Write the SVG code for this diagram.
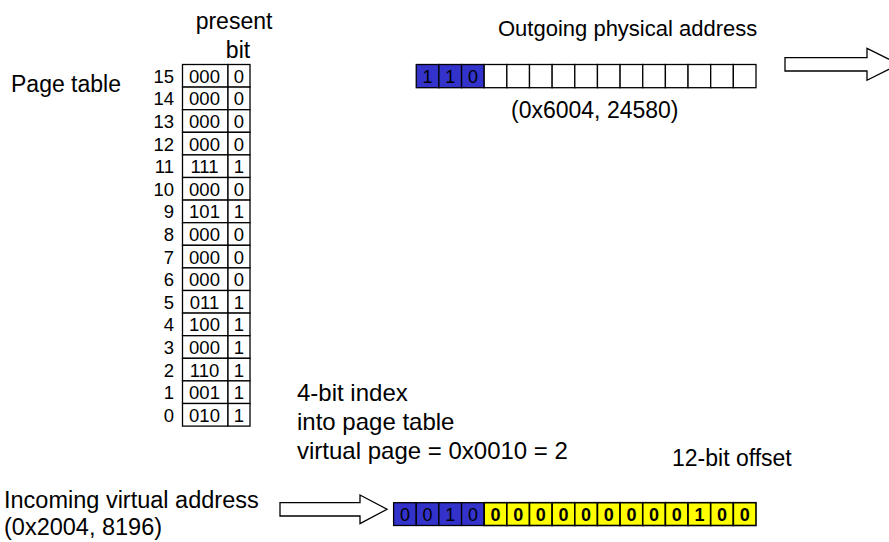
<svg xmlns="http://www.w3.org/2000/svg" width="889" height="542" viewBox="0 0 889 542">
<style>
text{font-family:"Liberation Sans",Arial,sans-serif;fill:#000}
.big{font-size:23px}
.sm{font-size:18.5px}
.bit{font-size:18px;text-anchor:middle}
.bd{font-weight:bold}
.c{text-anchor:middle}
.r{text-anchor:end}
.cell{fill:#fff;stroke:#000;stroke-width:1.3}
.blue{fill:#3333CC;stroke:#000;stroke-width:1.3}
.yel{fill:#FFFF00;stroke:#000;stroke-width:1.6}
.arrow{fill:#fff;stroke:#000;stroke-width:1.3}
</style>
<rect width="889" height="542" fill="#fff"/>

<g id="page-table-label"><text class="big" x="11" y="92">Page table</text></g>
<g id="present-bit-label">
<text class="big c" x="234" y="29">present</text>
<text class="big c" x="238" y="58">bit</text>
</g>

<g id="page-table">
<g id="row15"><text class="sm r" x="174" y="82.8">15</text><rect class="cell" x="182.5" y="64.5" width="45.5" height="22.6"/><rect class="cell" x="228" y="64.5" width="22" height="22.6"/><text class="sm c" x="204.5" y="82.8">000</text><text class="sm c" x="239" y="82.8">0</text></g>
<g id="row14"><text class="sm r" x="174" y="105.4">14</text><rect class="cell" x="182.5" y="87.1" width="45.5" height="22.6"/><rect class="cell" x="228" y="87.1" width="22" height="22.6"/><text class="sm c" x="204.5" y="105.4">000</text><text class="sm c" x="239" y="105.4">0</text></g>
<g id="row13"><text class="sm r" x="174" y="128">13</text><rect class="cell" x="182.5" y="109.7" width="45.5" height="22.6"/><rect class="cell" x="228" y="109.7" width="22" height="22.6"/><text class="sm c" x="204.5" y="128">000</text><text class="sm c" x="239" y="128">0</text></g>
<g id="row12"><text class="sm r" x="174" y="150.6">12</text><rect class="cell" x="182.5" y="132.3" width="45.5" height="22.6"/><rect class="cell" x="228" y="132.3" width="22" height="22.6"/><text class="sm c" x="204.5" y="150.6">000</text><text class="sm c" x="239" y="150.6">0</text></g>
<g id="row11"><text class="sm r" x="174" y="173.2">11</text><rect class="cell" x="182.5" y="154.9" width="45.5" height="22.6"/><rect class="cell" x="228" y="154.9" width="22" height="22.6"/><text class="sm c" x="204.5" y="173.2">111</text><text class="sm c" x="239" y="173.2">1</text></g>
<g id="row10"><text class="sm r" x="174" y="195.8">10</text><rect class="cell" x="182.5" y="177.5" width="45.5" height="22.6"/><rect class="cell" x="228" y="177.5" width="22" height="22.6"/><text class="sm c" x="204.5" y="195.8">000</text><text class="sm c" x="239" y="195.8">0</text></g>
<g id="row9"><text class="sm r" x="174" y="218.4">9</text><rect class="cell" x="182.5" y="200.1" width="45.5" height="22.6"/><rect class="cell" x="228" y="200.1" width="22" height="22.6"/><text class="sm c" x="204.5" y="218.4">101</text><text class="sm c" x="239" y="218.4">1</text></g>
<g id="row8"><text class="sm r" x="174" y="241">8</text><rect class="cell" x="182.5" y="222.7" width="45.5" height="22.6"/><rect class="cell" x="228" y="222.7" width="22" height="22.6"/><text class="sm c" x="204.5" y="241">000</text><text class="sm c" x="239" y="241">0</text></g>
<g id="row7"><text class="sm r" x="174" y="263.6">7</text><rect class="cell" x="182.5" y="245.3" width="45.5" height="22.6"/><rect class="cell" x="228" y="245.3" width="22" height="22.6"/><text class="sm c" x="204.5" y="263.6">000</text><text class="sm c" x="239" y="263.6">0</text></g>
<g id="row6"><text class="sm r" x="174" y="286.2">6</text><rect class="cell" x="182.5" y="267.9" width="45.5" height="22.6"/><rect class="cell" x="228" y="267.9" width="22" height="22.6"/><text class="sm c" x="204.5" y="286.2">000</text><text class="sm c" x="239" y="286.2">0</text></g>
<g id="row5"><text class="sm r" x="174" y="308.8">5</text><rect class="cell" x="182.5" y="290.5" width="45.5" height="22.6"/><rect class="cell" x="228" y="290.5" width="22" height="22.6"/><text class="sm c" x="204.5" y="308.8">011</text><text class="sm c" x="239" y="308.8">1</text></g>
<g id="row4"><text class="sm r" x="174" y="331.4">4</text><rect class="cell" x="182.5" y="313.1" width="45.5" height="22.6"/><rect class="cell" x="228" y="313.1" width="22" height="22.6"/><text class="sm c" x="204.5" y="331.4">100</text><text class="sm c" x="239" y="331.4">1</text></g>
<g id="row3"><text class="sm r" x="174" y="354">3</text><rect class="cell" x="182.5" y="335.7" width="45.5" height="22.6"/><rect class="cell" x="228" y="335.7" width="22" height="22.6"/><text class="sm c" x="204.5" y="354">000</text><text class="sm c" x="239" y="354">1</text></g>
<g id="row2"><text class="sm r" x="174" y="376.6">2</text><rect class="cell" x="182.5" y="358.3" width="45.5" height="22.6"/><rect class="cell" x="228" y="358.3" width="22" height="22.6"/><text class="sm c" x="204.5" y="376.6">110</text><text class="sm c" x="239" y="376.6">1</text></g>
<g id="row1"><text class="sm r" x="174" y="399.2">1</text><rect class="cell" x="182.5" y="380.9" width="45.5" height="22.6"/><rect class="cell" x="228" y="380.9" width="22" height="22.6"/><text class="sm c" x="204.5" y="399.2">001</text><text class="sm c" x="239" y="399.2">1</text></g>
<g id="row0"><text class="sm r" x="174" y="421.8">0</text><rect class="cell" x="182.5" y="403.5" width="45.5" height="22.6"/><rect class="cell" x="228" y="403.5" width="22" height="22.6"/><text class="sm c" x="204.5" y="421.8">010</text><text class="sm c" x="239" y="421.8">1</text></g>
</g>

<g id="outgoing-label"><text x="498" y="36" style="font-size:22px">Outgoing physical address</text></g>
<g id="outgoing-address">
<rect class="blue" x="416.25" y="64.5" width="22.65" height="23.2"/>
<rect class="blue" x="438.9" y="64.5" width="22.65" height="23.2"/>
<rect class="blue" x="461.55" y="64.5" width="22.65" height="23.2"/>
<rect class="cell" x="484.2" y="64.5" width="22.65" height="23.2"/>
<rect class="cell" x="506.85" y="64.5" width="22.65" height="23.2"/>
<rect class="cell" x="529.5" y="64.5" width="22.65" height="23.2"/>
<rect class="cell" x="552.15" y="64.5" width="22.65" height="23.2"/>
<rect class="cell" x="574.8" y="64.5" width="22.65" height="23.2"/>
<rect class="cell" x="597.45" y="64.5" width="22.65" height="23.2"/>
<rect class="cell" x="620.1" y="64.5" width="22.65" height="23.2"/>
<rect class="cell" x="642.75" y="64.5" width="22.65" height="23.2"/>
<rect class="cell" x="665.4" y="64.5" width="22.65" height="23.2"/>
<rect class="cell" x="688.05" y="64.5" width="22.65" height="23.2"/>
<rect class="cell" x="710.7" y="64.5" width="22.65" height="23.2"/>
<rect class="cell" x="733.35" y="64.5" width="22.65" height="23.2"/>
<text class="bit" x="427.6" y="82.5">1</text>
<text class="bit" x="450.2" y="82.5">1</text>
<text class="bit" x="472.9" y="82.5">0</text>
</g>
<g id="outgoing-value"><text class="big" x="511" y="118">(0x6004, 24580)</text></g>

<g id="index-label" style="font-size:24px">
<text x="297" y="401">4-bit index</text>
<text x="297" y="430">into page table</text>
<text x="297" y="459">virtual page = 0x0010 = 2</text>
</g>
<g id="offset-label"><text class="big" x="672" y="466">12-bit offset</text></g>

<g id="incoming-label" style="font-size:23.5px">
<text x="4" y="508">Incoming virtual address</text>
<text x="4" y="535">(0x2004, 8196)</text>
</g>

<g id="incoming-address">
<rect class="blue" x="393.6" y="502.7" width="22.65" height="22.8"/>
<rect class="blue" x="416.25" y="502.7" width="22.65" height="22.8"/>
<rect class="blue" x="438.9" y="502.7" width="22.65" height="22.8"/>
<rect class="blue" x="461.55" y="502.7" width="22.65" height="22.8"/>
<rect class="yel" x="484.2" y="502.7" width="22.65" height="22.8"/>
<rect class="yel" x="506.85" y="502.7" width="22.65" height="22.8"/>
<rect class="yel" x="529.5" y="502.7" width="22.65" height="22.8"/>
<rect class="yel" x="552.15" y="502.7" width="22.65" height="22.8"/>
<rect class="yel" x="574.8" y="502.7" width="22.65" height="22.8"/>
<rect class="yel" x="597.45" y="502.7" width="22.65" height="22.8"/>
<rect class="yel" x="620.1" y="502.7" width="22.65" height="22.8"/>
<rect class="yel" x="642.75" y="502.7" width="22.65" height="22.8"/>
<rect class="yel" x="665.4" y="502.7" width="22.65" height="22.8"/>
<rect class="yel" x="688.05" y="502.7" width="22.65" height="22.8"/>
<rect class="yel" x="710.7" y="502.7" width="22.65" height="22.8"/>
<rect class="yel" x="733.35" y="502.7" width="22.65" height="22.8"/>
<text class="bit" x="404.9" y="520.5">0</text>
<text class="bit" x="427.6" y="520.5">0</text>
<text class="bit" x="450.2" y="520.5">1</text>
<text class="bit" x="472.9" y="520.5">0</text>
<text class="bit bd" x="495.5" y="520.5">0</text>
<text class="bit bd" x="518.2" y="520.5">0</text>
<text class="bit bd" x="540.8" y="520.5">0</text>
<text class="bit bd" x="563.5" y="520.5">0</text>
<text class="bit bd" x="586.1" y="520.5">0</text>
<text class="bit bd" x="608.8" y="520.5">0</text>
<text class="bit bd" x="631.4" y="520.5">0</text>
<text class="bit bd" x="654.1" y="520.5">0</text>
<text class="bit bd" x="676.7" y="520.5">0</text>
<text class="bit bd" x="699.4" y="520.5">1</text>
<text class="bit bd" x="722" y="520.5">0</text>
<text class="bit bd" x="744.7" y="520.5">0</text>
</g>

<g id="connectors">
<polygon class="arrow" points="280,502.7 360,502.7 360,495 387,509.3 360,523.6 360,516 280,516"/>
<polygon class="arrow" points="785,57.7 867,57.7 867,48.3 899,64.3 867,80.3 867,71 785,71"/>
</g>
</svg>
